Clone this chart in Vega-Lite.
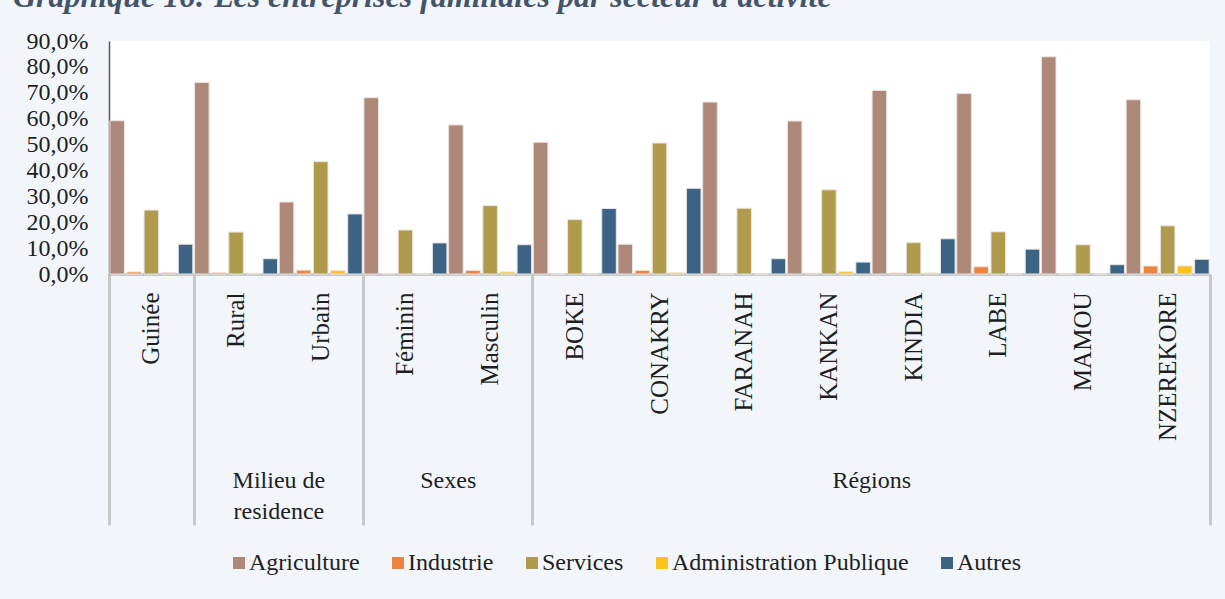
{
  "$schema": "https://vega.github.io/schema/vega-lite/v6.json",
  "autosize": "none",
  "width": 1101,
  "height": 233,
  "padding": {"left": 109, "top": 41, "right": 15, "bottom": 325},
  "background": "#f2f6fa",
  "title": {
    "text": "Graphique 16: Les entreprises familiales par secteur d'activité",
    "anchor": "start",
    "frame": "bounds",
    "font": "Liberation Serif",
    "fontSize": 32,
    "fontStyle": "italic",
    "fontWeight": "bold",
    "color": "#44546a",
    "baseline": "alphabetic",
    "offset": 0,
    "dx": -13,
    "dy": 10
  },
  "config": {
    "view": {"fill": "white", "stroke": null},
    "font": "Liberation Serif"
  },
  "data": {
    "values": [
      {"categorie": "Guinée", "secteur": "Agriculture", "valeur": 59.2},
      {"categorie": "Guinée", "secteur": "Industrie", "valeur": 0.8},
      {"categorie": "Guinée", "secteur": "Services", "valeur": 24.7},
      {"categorie": "Guinée", "secteur": "Administration Publique", "valeur": 0.6},
      {"categorie": "Guinée", "secteur": "Autres", "valeur": 11.5},
      {"categorie": "Rural", "secteur": "Agriculture", "valeur": 74.0},
      {"categorie": "Rural", "secteur": "Industrie", "valeur": 0.5},
      {"categorie": "Rural", "secteur": "Services", "valeur": 16.2},
      {"categorie": "Rural", "secteur": "Administration Publique", "valeur": 0.3},
      {"categorie": "Rural", "secteur": "Autres", "valeur": 5.9},
      {"categorie": "Urbain", "secteur": "Agriculture", "valeur": 27.8},
      {"categorie": "Urbain", "secteur": "Industrie", "valeur": 1.5},
      {"categorie": "Urbain", "secteur": "Services", "valeur": 43.4},
      {"categorie": "Urbain", "secteur": "Administration Publique", "valeur": 1.3},
      {"categorie": "Urbain", "secteur": "Autres", "valeur": 23.2},
      {"categorie": "Féminin", "secteur": "Agriculture", "valeur": 68.1},
      {"categorie": "Féminin", "secteur": "Industrie", "valeur": 0.2},
      {"categorie": "Féminin", "secteur": "Services", "valeur": 17.0},
      {"categorie": "Féminin", "secteur": "Administration Publique", "valeur": 0.1},
      {"categorie": "Féminin", "secteur": "Autres", "valeur": 12.0},
      {"categorie": "Masculin", "secteur": "Agriculture", "valeur": 57.6},
      {"categorie": "Masculin", "secteur": "Industrie", "valeur": 1.4},
      {"categorie": "Masculin", "secteur": "Services", "valeur": 26.4},
      {"categorie": "Masculin", "secteur": "Administration Publique", "valeur": 0.8},
      {"categorie": "Masculin", "secteur": "Autres", "valeur": 11.3},
      {"categorie": "BOKE", "secteur": "Agriculture", "valeur": 50.9},
      {"categorie": "BOKE", "secteur": "Industrie", "valeur": 0.0},
      {"categorie": "BOKE", "secteur": "Services", "valeur": 21.0},
      {"categorie": "BOKE", "secteur": "Administration Publique", "valeur": 0.0},
      {"categorie": "BOKE", "secteur": "Autres", "valeur": 25.3},
      {"categorie": "CONAKRY", "secteur": "Agriculture", "valeur": 11.5},
      {"categorie": "CONAKRY", "secteur": "Industrie", "valeur": 1.4},
      {"categorie": "CONAKRY", "secteur": "Services", "valeur": 50.6},
      {"categorie": "CONAKRY", "secteur": "Administration Publique", "valeur": 0.5},
      {"categorie": "CONAKRY", "secteur": "Autres", "valeur": 33.1},
      {"categorie": "FARANAH", "secteur": "Agriculture", "valeur": 66.4},
      {"categorie": "FARANAH", "secteur": "Industrie", "valeur": 0.0},
      {"categorie": "FARANAH", "secteur": "Services", "valeur": 25.4},
      {"categorie": "FARANAH", "secteur": "Administration Publique", "valeur": 0.0},
      {"categorie": "FARANAH", "secteur": "Autres", "valeur": 5.9},
      {"categorie": "KANKAN", "secteur": "Agriculture", "valeur": 59.1},
      {"categorie": "KANKAN", "secteur": "Industrie", "valeur": 0.3},
      {"categorie": "KANKAN", "secteur": "Services", "valeur": 32.5},
      {"categorie": "KANKAN", "secteur": "Administration Publique", "valeur": 0.9},
      {"categorie": "KANKAN", "secteur": "Autres", "valeur": 4.6},
      {"categorie": "KINDIA", "secteur": "Agriculture", "valeur": 70.9},
      {"categorie": "KINDIA", "secteur": "Industrie", "valeur": 0.4},
      {"categorie": "KINDIA", "secteur": "Services", "valeur": 12.1},
      {"categorie": "KINDIA", "secteur": "Administration Publique", "valeur": 0.4},
      {"categorie": "KINDIA", "secteur": "Autres", "valeur": 13.6},
      {"categorie": "LABE", "secteur": "Agriculture", "valeur": 69.7},
      {"categorie": "LABE", "secteur": "Industrie", "valeur": 2.8},
      {"categorie": "LABE", "secteur": "Services", "valeur": 16.3},
      {"categorie": "LABE", "secteur": "Administration Publique", "valeur": 0.0},
      {"categorie": "LABE", "secteur": "Autres", "valeur": 9.6},
      {"categorie": "MAMOU", "secteur": "Agriculture", "valeur": 83.9},
      {"categorie": "MAMOU", "secteur": "Industrie", "valeur": 0.0},
      {"categorie": "MAMOU", "secteur": "Services", "valeur": 11.3},
      {"categorie": "MAMOU", "secteur": "Administration Publique", "valeur": 0.0},
      {"categorie": "MAMOU", "secteur": "Autres", "valeur": 3.6},
      {"categorie": "NZEREKORE", "secteur": "Agriculture", "valeur": 67.3},
      {"categorie": "NZEREKORE", "secteur": "Industrie", "valeur": 3.1},
      {"categorie": "NZEREKORE", "secteur": "Services", "valeur": 18.6},
      {"categorie": "NZEREKORE", "secteur": "Administration Publique", "valeur": 3.1},
      {"categorie": "NZEREKORE", "secteur": "Autres", "valeur": 5.7}
    ]
  },
  "layer": [
    {
      "mark": {"type": "bar", "stroke": "#e9e5e2", "strokeWidth": 1},
      "encoding": {
        "x": {
          "field": "categorie",
          "type": "nominal",
          "sort": ["Guinée", "Rural", "Urbain", "Féminin", "Masculin", "BOKE", "CONAKRY", "FARANAH", "KANKAN", "KINDIA", "LABE", "MAMOU", "NZEREKORE"],
          "scale": {"paddingInner": 0, "paddingOuter": 0},
          "axis": {
            "title": null,
            "orient": "bottom",
            "offset": 0,
            "labelAngle": -90,
            "labelAlign": "right",
            "labelBaseline": "middle",
            "labelFontSize": 25,
            "labelFont": "Liberation Serif",
            "labelColor": "#1e1e1e",
            "labelPadding": 18,
            "labelLimit": 400,
            "ticks": false,
            "domainColor": "#c8c8c8",
            "domainWidth": 3
          }
        },
        "xOffset": {
          "field": "secteur",
          "type": "nominal",
          "sort": ["Agriculture", "Industrie", "Services", "Administration Publique", "Autres"],
          "scale": {"paddingInner": 0.15, "paddingOuter": 0.05}
        },
        "y": {
          "field": "valeur",
          "type": "quantitative",
          "scale": {"domain": [0, 90], "nice": false},
          "axis": {
            "title": null,
            "values": [0, 10, 20, 30, 40, 50, 60, 70, 80, 90],
            "labelExpr": "replace(format(datum.value, '.1f'), '.', ',') + '%'",
            "labelOverlap": false,
            "labelBound": false,
            "labelFontSize": 24,
            "labelFont": "Liberation Serif",
            "labelColor": "#1e1e1e",
            "labelPadding": 21,
            "ticks": false,
            "grid": false,
            "domainColor": "#595959",
            "domainWidth": 1.5
          }
        },
        "color": {
          "field": "secteur",
          "type": "nominal",
          "scale": {
            "domain": ["Agriculture", "Industrie", "Services", "Administration Publique", "Autres"],
            "range": ["#ae8878", "#ee8340", "#b09a4c", "#fcc11b", "#3c6383"]
          },
          "legend": {
            "orient": "none",
            "legendX": 118,
            "legendY": 510,
            "direction": "horizontal",
            "title": null,
            "symbolType": "square",
            "symbolSize": 144,
            "symbolStrokeWidth": 0,
            "labelFontSize": 24,
            "labelFont": "Liberation Serif",
            "labelColor": "#1e1e1e",
            "labelOffset": -2,
            "columnPadding": 26,
            "labelLimit": 400,
            "padding": 0
          }
        }
      }
    },
    {
      "mark": {"type": "bar", "opacity": 0},
      "encoding": {
        "x": {
          "field": "categorie",
          "type": "nominal",
          "sort": ["Guinée", "Rural", "Urbain", "Féminin", "Masculin", "BOKE", "CONAKRY", "FARANAH", "KANKAN", "KINDIA", "LABE", "MAMOU", "NZEREKORE"],
          "axis": {
            "title": null,
            "orient": "bottom",
            "offset": 0,
            "domain": false,
            "tickBand": "extent",
            "tickSize": 251,
            "tickWidth": 3,
            "tickColor": "#c8c8c8",
            "tickOpacity": {"condition": {"test": "isValid(datum.extra) || indexof(['Guinée','Urbain','Masculin','NZEREKORE'], datum.value) >= 0", "value": 1}, "value": 0},
            "labelAngle": 0,
            "labelAlign": "center",
            "labelBaseline": "top",
            "labelFontSize": 24,
            "labelFont": "Liberation Serif",
            "labelColor": "#1e1e1e",
            "labelLineHeight": 31,
            "labelOffset": -42.35,
            "labelPadding": -57,
            "labelOverlap": false,
            "labelExpr": "datum.value == 'Urbain' ? ['Milieu de', 'residence'] : datum.value == 'Masculin' ? 'Sexes' : datum.value == 'KINDIA' ? 'Régions' : ''"
          }
        }
      }
    }
  ],
  "resolve": {"axis": {"x": "independent"}}
}
